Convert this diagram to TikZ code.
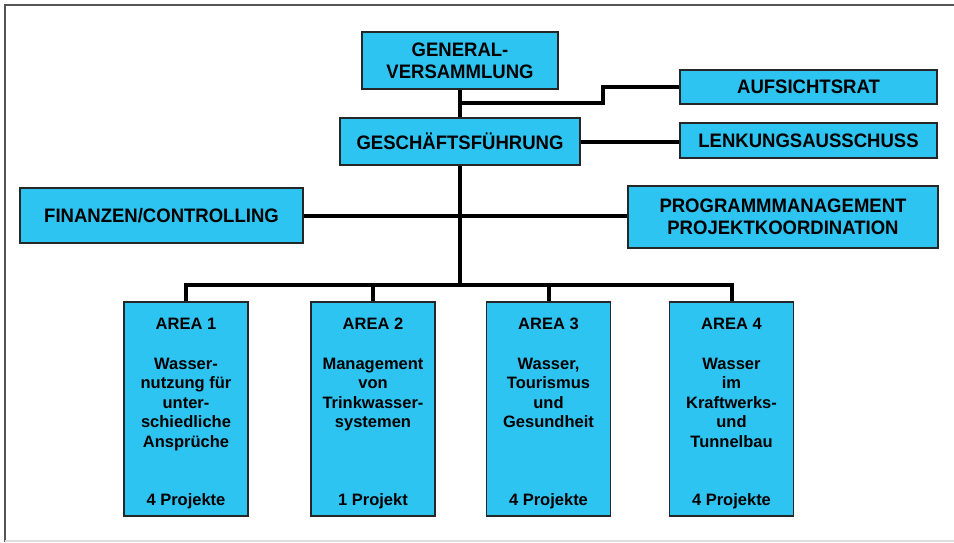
\documentclass[tikz,border=0pt]{standalone}
\usepackage{fontspec}
\setmainfont{Liberation Sans}
\newfontfamily\narrowfont[FakeStretch=0.95]{Liberation Sans}
\usetikzlibrary{positioning}
\definecolor{boxblue}{RGB}{46,196,242}
\definecolor{framegray}{RGB}{85,85,85}
\definecolor{basegray}{RGB}{222,222,222}

\begin{document}
\begin{tikzpicture}[x=1pt, y=-1pt,
  unit/.style={draw=black!85, line width=1.6pt, fill=boxblue, inner sep=0pt,
    align=center, font=\narrowfont\bfseries\fontsize{19.5}{22}\selectfont},
  area/.style={draw=black!85, line width=1.6pt, fill=boxblue,
    minimum width=124pt, minimum height=214pt},
  areatxt/.style={inner sep=0pt, align=center,
    font=\bfseries\fontsize{16.5}{19.5}\selectfont},
  link/.style={line width=4pt},
]
\useasboundingbox (0,0) rectangle (954,542);

%% Frame
\draw[framegray, line width=2pt] (4.5,542) -- (4.5,4.5) -- (954,4.5);
\draw[basegray, line width=2pt] (4.5,540.5) -- (954,540.5);

%% Upper boxes
\node[unit, minimum width=196pt, minimum height=57pt] (gv) at (460,60.5)
  {GENERAL-\\VERSAMMLUNG};
\node[unit, minimum width=257pt, minimum height=34pt] (auf) at (808.5,87)
  {AUFSICHTSRAT};
\node[unit, minimum width=240pt, minimum height=47pt] (gf) at (460,141.5)
  {GESCHÄFTSFÜHRUNG};
\node[unit, minimum width=257pt, minimum height=35pt] (lenk) at (808.5,140.5)
  {LENKUNGSAUSSCHUSS};
\node[unit, minimum width=283pt, minimum height=55pt] (fin) at (161.5,215.5)
  {FINANZEN/CONTROLLING};
\node[unit, minimum width=310pt, minimum height=62pt] (prog) at (783,217)
  {PROGRAMMMANAGEMENT\\PROJEKTKOORDINATION};

%% Areas
\foreach \i/\x/\desc/\num in {
  1/186/{Wasser-\\nutzung für\\unter-\\schiedliche\\Ansprüche}/{4 Projekte},
  2/373/{Management\\von\\Trinkwasser-\\systemen}/{1 Projekt},
  3/548.5/{Wasser,\\Tourismus\\und\\Gesundheit}/{4 Projekte},
  4/731.5/{Wasser\\im\\Kraftwerks-\\und\\Tunnelbau}/{4 Projekte}} {
  \node[area] (a\i) at (\x,409) {};
  \node[areatxt, below=17pt] (t\i) at (a\i.north) {AREA \i\\[20pt]\desc};
  \node[areatxt, anchor=base] (n\i) at ([yshift=11pt]a\i.south) {\num};
}

%% Connectors
\coordinate (aufj) at (460,103);
\coordinate (aufk) at (603,103);
\coordinate (bus) at (460,285);
\draw[link] (gv.south) -- (gf.north);
\draw[link] (aufj) -- (aufk) |- (auf.west);
\draw[link] (gf.east) -- (gf.east -| lenk.west);
\draw[link] (gf.south) -- (bus);
\draw[link] (fin.east) -- (fin.east -| prog.west);
\draw[link] (a1.north) |- (bus) -| (a4.north);
\foreach \i in {2,3}
  \draw[link] (a\i.north) -- (a\i.north |- bus);

\end{tikzpicture}
\end{document}
